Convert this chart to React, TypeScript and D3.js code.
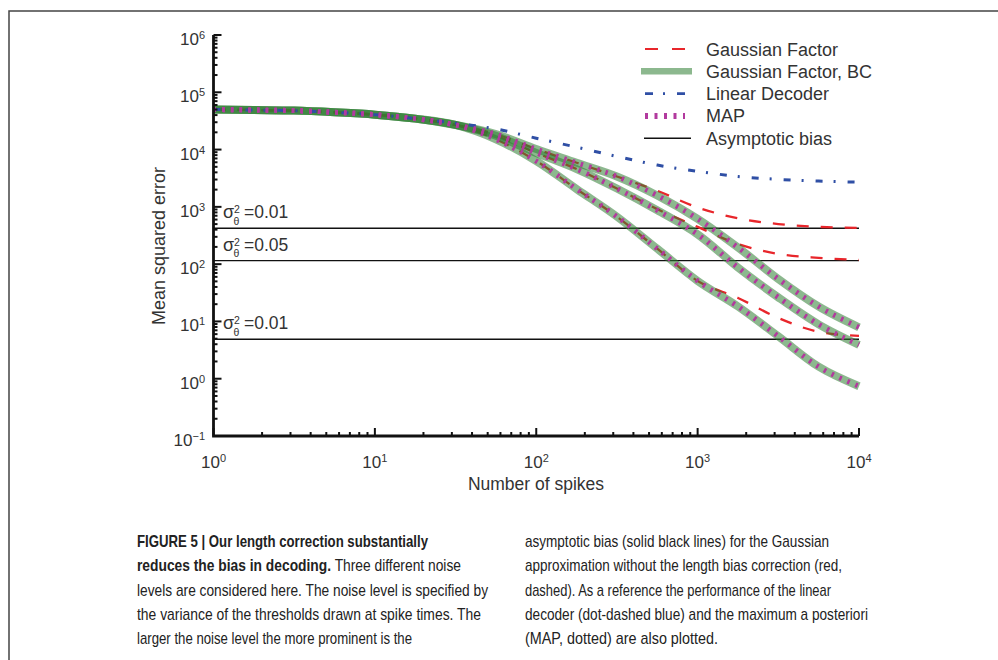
import React from "react";
import * as d3 from "d3";

const spikes = [1, 1.78, 3.16, 5.62, 10, 17.8, 31.6, 56.2, 100, 178, 316, 562, 1000, 1780, 3160, 5620, 10000];

// Gaussian factor with bias correction (also MAP, which lies on top of it)
const bcHigh = [50100, 49000, 47900, 44700, 40700, 34700, 26900, 18600, 10200, 5890, 3390, 1580, 617, 195, 55, 18.2, 7.9];
const bcMid = [50100, 49000, 47900, 44700, 40700, 34700, 26900, 17400, 8710, 4570, 2090, 871, 331, 87, 26.3, 8.9, 3.9];
const bcLow = [50100, 49000, 47900, 44700, 40700, 34700, 26900, 15100, 6310, 2040, 676, 186, 51, 18.2, 5.5, 1.62, 0.74];

// Gaussian factor without the correction
const gfHigh = [50100, 49000, 47900, 44700, 40700, 34700, 26900, 18600, 10200, 5890, 3390, 1910, 977, 631, 501, 447, 430];
const gfMid = [50100, 49000, 47900, 44700, 40700, 34700, 26900, 17400, 8710, 4570, 2090, 912, 447, 224, 151, 129, 119];
const gfLow = [50100, 49000, 47900, 44700, 40700, 34700, 26900, 15100, 6310, 2040, 676, 186, 51, 25.7, 11.5, 6.6, 5.6];

// linear decoder
const linear = [50100, 49000, 47900, 44700, 40700, 34700, 28800, 22900, 15800, 11000, 7590, 5370, 4170, 3390, 3020, 2820, 2690];

const asymptotes = [424, 115, 4.9];
const noiseLabels = ["0.01", "0.05", "0.01"];

const legendLabels = ["Gaussian Factor", "Gaussian Factor, BC", "Linear Decoder", "MAP", "Asymptotic bias"];
const xTickExps = [0, 1, 2, 3, 4];
const yTickExps = [-1, 0, 1, 2, 3, 4, 5, 6];

// caption lines: [bold part, regular part]
const captionLeft = [
  ["FIGURE 5 | Our length correction substantially", ""],
  ["reduces the bias in decoding.", " Three different noise"],
  ["", "levels are considered here. The noise level is specified by"],
  ["", "the variance of the thresholds drawn at spike times. The"],
  ["", "larger the noise level the more prominent is the"],
];
const captionRight = [
  "asymptotic bias (solid black lines) for the Gaussian",
  "approximation without the length bias correction (red,",
  "dashed). As a reference the performance of the linear",
  "decoder (dot-dashed blue) and the maximum a posteriori",
  "(MAP, dotted) are also plotted.",
];

const RED = "#e8262b";
const GREEN = "#2e7d32";
const BLUE = "#2f4fa5";
const MAGENTA = "#b23a9e";
const INK = "#111";
const TEXT = "#333";
const FONT = "'Liberation Sans', Arial, Helvetica, sans-serif";
const CAPTION_FONT = "'Liberation Sans Narrow', 'Liberation Sans', Arial, sans-serif";

export default function App() {
  const x = d3.scaleLog().domain([1, 1e4]).range([213.5, 859]);
  const y = d3.scaleLog().domain([0.1, 1e6]).range([436, 35]);

  const line = d3
    .line<number>()
    .x((_, i) => x(spikes[i]))
    .y((d) => y(d))
    .curve(d3.curveMonotoneX);

  const xTicks = x.ticks();
  const yTicks = y.ticks();
  const isMajor = (v: number) => Math.abs(Math.log10(v) - Math.round(Math.log10(v))) < 1e-6;

  const legendY = (i: number) => 49 + i * 22.3;

  const leftWidths = [291, 324, 351, 344, 275];
  const rightWidths = [304, 317, 306, 343, 193];

  return (
    <div style={{ position: "absolute", left: 0, top: 0 }}>
      <svg width={998} height={660} style={{ display: "block", background: "#fff" }}>
        {/* frame */}
        <path d="M9,660 V11 H998" fill="none" stroke="#444" strokeWidth={1.5} />

        {/* asymptotic bias */}
        {asymptotes.map((a, i) => (
          <line key={"as" + i} x1={x(1)} x2={x(1e4)} y1={y(a)} y2={y(a)} stroke={INK} strokeWidth={1.4} />
        ))}

        {/* red dashed */}
        {[gfHigh, gfMid, gfLow].map((s, i) => (
          <path key={"gf" + i} d={line(s) || ""} fill="none" stroke={RED} strokeWidth={2.3} strokeDasharray="12,12" />
        ))}
        {/* green BC */}
        {[bcHigh, bcMid, bcLow].map((s, i) => (
          <path key={"bc" + i} d={line(s) || ""} fill="none" stroke={GREEN} strokeOpacity={0.55} strokeWidth={8} />
        ))}
        {/* linear decoder */}
        <path d={line(linear) || ""} fill="none" stroke={BLUE} strokeWidth={3} strokeDasharray="7,11,2,12" />
        {/* MAP dotted */}
        {[bcHigh, bcMid, bcLow].map((s, i) => (
          <path key={"map" + i} d={line(s) || ""} fill="none" stroke={MAGENTA} strokeWidth={5} strokeDasharray="2.5,6.2" />
        ))}

        {/* noise labels */}
        {asymptotes.map((a, i) => {
          const by = y(a) - 10;
          return (
            <g key={"nl" + i} fill={TEXT} fontFamily={FONT}>
              <text x={223} y={by} fontSize={18}>σ</text>
              <text x={234} y={by - 5} fontSize={10.5}>2</text>
              <text x={233.5} y={by + 6.5} fontSize={10.5}>θ</text>
              <text x={244} y={by} fontSize={17.5}>{"=" + noiseLabels[i]}</text>
            </g>
          );
        })}

        {/* axes */}
        <g stroke={INK}>
          {xTicks.map((t, i) => (
            <line key={"xt" + i} x1={x(t)} x2={x(t)} y1={436} y2={436 - (isMajor(t) ? 8 : 4)} strokeWidth={2} />
          ))}
          {yTicks.map((t, i) => (
            <line key={"yt" + i} x1={213.5} x2={213.5 + (isMajor(t) ? 8 : 4)} y1={y(t)} y2={y(t)} strokeWidth={2} />
          ))}
          <path d={`M${x(1)},${y(1e6)} V436 H${x(1e4)}`} fill="none" strokeWidth={2.8} />
        </g>

        <g fill={TEXT} fontFamily={FONT} fontSize={17}>
          {xTickExps.map((e) => (
            <text key={"xl" + e} x={x(Math.pow(10, e))} y={468} textAnchor="middle">
              10<tspan dy={-6.5} fontSize={11}>{e}</tspan>
            </text>
          ))}
          {yTickExps.map((e) => (
            <text key={"yl" + e} x={205} y={y(Math.pow(10, e)) + 10} textAnchor="end">
              10<tspan dy={-6} fontSize={11}>{e < 0 ? "\u2212" + Math.abs(e) : e}</tspan>
            </text>
          ))}
          <text x={536} y={490} textAnchor="middle" fontSize={17.5}>Number of spikes</text>
          <text transform="translate(165,246) rotate(-90)" textAnchor="middle" fontSize={18}>Mean squared error</text>
        </g>

        {/* legend */}
        <g>
          <line x1={645} x2={686} y1={legendY(0)} y2={legendY(0)} stroke={RED} strokeWidth={2.2} strokeDasharray="13,14" />
          <line x1={641} x2={692} y1={legendY(1)} y2={legendY(1)} stroke={GREEN} strokeOpacity={0.55} strokeWidth={6.5} />
          <line x1={645} x2={685} y1={legendY(2)} y2={legendY(2)} stroke={BLUE} strokeWidth={2.8} strokeDasharray="8,10,2,12" />
          <line x1={645} x2={685} y1={legendY(3)} y2={legendY(3)} stroke={MAGENTA} strokeWidth={6} strokeDasharray="3,6.5" />
          <line x1={644} x2={691} y1={legendY(4)} y2={legendY(4)} stroke={INK} strokeWidth={1.6} />
          {legendLabels.map((l, i) => (
            <text key={"lg" + i} x={706} y={legendY(i) + 6.5} fill={TEXT} fontFamily={FONT} fontSize={18}>{l}</text>
          ))}
        </g>

        {/* caption */}
        <g fill="#222" fontFamily={CAPTION_FONT} fontSize={17}>
          {captionLeft.map(([b, r], i) => (
            <text
              key={"cl" + i}
              x={137}
              y={547 + i * 24.3}
              textLength={leftWidths[i]}
              lengthAdjust="spacingAndGlyphs"
              style={{ whiteSpace: "pre" }}
            >
              {b && <tspan fontWeight="bold">{b}</tspan>}
              {r && <tspan>{r}</tspan>}
            </text>
          ))}
          {captionRight.map((c, i) => (
            <text key={"cr" + i} x={525} y={547 + i * 24.3} textLength={rightWidths[i]} lengthAdjust="spacingAndGlyphs">
              {c}
            </text>
          ))}
        </g>
      </svg>
    </div>
  );
}
